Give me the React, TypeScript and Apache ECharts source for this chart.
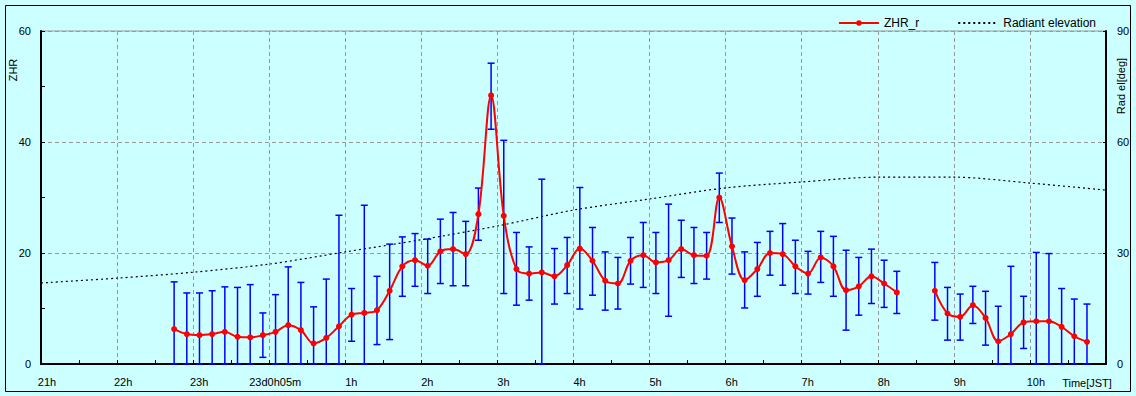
import React, { useEffect, useRef } from "react";
import * as echarts from "echarts";

// Observation times (JST), 10-minute bins; null values = no data
const zhrTimes = [
  "22:45","22:55","23:05","23:15","23:25","23:35","23:45","23:55",
  "0:05","0:15","0:25","0:35","0:45","0:55","1:05","1:15","1:25","1:35","1:45","1:55",
  "2:05","2:15","2:25","2:35","2:45","2:55","3:05","3:15","3:25","3:35","3:45","3:55",
  "4:05","4:15","4:25","4:35","4:45","4:55","5:05","5:15","5:25","5:35","5:45","5:55",
  "6:05","6:15","6:25","6:35","6:45","6:55","7:05","7:15","7:25","7:35","7:45","7:55",
  "8:05","8:15","8:25","8:35","8:45","8:55","9:05","9:15","9:25","9:35","9:45","9:55",
  "10:05","10:15","10:25","10:35","10:45",
];
const zhrValues = [
  6.3, 5.4, 5.2, 5.4, 5.8, 4.9, 4.8, 5.2,
  5.8, 7.0, 6.1, 3.7, 4.7, 6.8, 8.9, 9.2, 9.7, 13.2, 17.6, 18.7,
  17.7, 20.3, 20.7, 19.8, 27.0, 48.4, 26.7, 17.1, 16.3, 16.5, 15.8, 17.8,
  20.8, 18.6, 15.0, 14.5, 18.6, 19.6, 18.3, 18.7, 20.7, 19.6, 19.5, 30.0,
  21.2, 15.1, 17.1, 20.0, 19.8, 17.6, 16.3, 19.2, 17.6, 13.3, 14.0, 15.8,
  14.5, 12.9, null, null, 13.2, 9.1, 8.5, 10.6, 8.3, 4.1, 5.4, 7.5,
  7.7, 7.7, 6.7, 5.0, 4.0,
];
const zhrLow = [
  0, 0, 0, 0, 0, 0, 0, 1.2,
  0, 0, 0, 0, 0, 0, 4.1, 0, 3.5, 4.4, 12.2, 14.0,
  12.7, 14.5, 14.1, 14.1, 22.3, 42.3, 12.7, 10.6, 11.5, 0, 10.8, 12.7,
  9.9, 12.4, 9.7, 9.9, 14.4, 13.8, 12.7, 8.6, 15.6, 14.5, 15.3, 25.5,
  16.2, 10.1, 12.2, 16.0, 14.2, 12.7, 12.6, 14.7, 12.2, 6.1, 8.8, 10.9,
  10.2, 9.1, null, null, 7.9, 4.3, 4.3, 7.3, 3.4, 0, 0, 2.8,
  0, 0, 0, 0, 0,
];
const zhrHigh = [
  14.8, 12.8, 12.8, 13.2, 13.9, 13.8, 14.3, 9.2,
  12.5, 17.5, 14.7, 10.3, 15.3, 26.8, 13.6, 28.6, 15.8, 21.6, 22.9, 23.5,
  22.5, 26.1, 27.3, 25.7, 31.7, 54.2, 40.3, 23.7, 21.1, 33.3, 20.8, 22.8,
  31.8, 24.6, 20.2, 19.2, 22.8, 25.5, 23.7, 28.8, 25.9, 24.6, 23.7, 34.4,
  26.3, 20.2, 21.9, 23.9, 25.3, 22.3, 20.3, 23.9, 23.0, 20.5, 19.2, 20.7,
  18.7, 16.7, null, null, 18.3, 13.8, 12.6, 14.0, 13.1, 10.4, 17.6, 12.2,
  20.1, 19.9, 13.6, 11.7, 10.8,
];

// Radiant elevation [deg], hourly
const elevTimes = ["21:00","22:00","23:00","0:00","1:00","2:00","3:00","4:00","5:00","6:00","7:00","8:00","9:00","10:00","11:00"];
const elevValues = [21.9, 23.2, 24.8, 27.0, 30.3, 33.6, 37.3, 41.6, 44.6, 47.6, 49.2, 50.5, 50.5, 48.9, 47.0];

// x-axis tick labels (hours since 21h of the previous day)
const xTickLabels: Record<number, string> = {
  21: "21h", 22: "22h", 23: "23h", 24: "23d0h05m", 25: "1h", 26: "2h", 27: "3h",
  28: "4h", 29: "5h", 30: "6h", 31: "7h", 32: "8h", 33: "9h", 34: "10h", 35: "",
};

const toHours = (s: string) => {
  const [h, m] = s.split(":").map(Number);
  const hh = h < 21 ? h + 24 : h;
  return hh + m / 60;
};

const FONT = "'Liberation Sans', Arial, sans-serif";

export default function App() {
  const ref = useRef<HTMLDivElement>(null);
  useEffect(() => {
    if (!ref.current) return;
    const chart = echarts.init(ref.current, null, { renderer: "svg" });

    const lineData = zhrTimes.map((t, i) => [toHours(t), zhrValues[i] == null ? "-" : zhrValues[i]]);
    const errData: number[][] = [];
    zhrTimes.forEach((t, i) => {
      if (zhrLow[i] != null && zhrHigh[i] != null) errData.push([toHours(t), zhrLow[i] as number, zhrHigh[i] as number]);
    });
    const elevData = elevTimes.map((t, i) => [toHours(t), elevValues[i]]);

    chart.setOption({
      animation: false,
      backgroundColor: "#CCFFFF",
      textStyle: { fontFamily: FONT },
      grid: { left: 41, right: 30, top: 31, bottom: 32, show: true, borderColor: "#999999", borderWidth: 1, backgroundColor: "#CCFFFF" },
      legend: {
        data: [
          { name: "ZHR_r" },
          { name: "Radiant elevation", itemStyle: { opacity: 0 } },
        ],
        right: 35,
        top: 12,
        itemWidth: 40,
        itemHeight: 7,
        itemGap: 38,
        textStyle: { fontSize: 12, color: "#000", fontFamily: FONT },
      },
      graphic: [
        { type: "rect", shape: { x: 5.5, y: 5.5, width: 1125, height: 386 }, style: { fill: "none", stroke: "#000", lineWidth: 1 }, z: 100 },
        { type: "text", x: 13, y: 70, rotation: Math.PI / 2, style: { text: "ZHR", font: `11px ${FONT}`, fill: "#000", align: "center", verticalAlign: "middle" } },
        { type: "text", x: 1121, y: 86, rotation: Math.PI / 2, style: { text: "Rad el[deg]", font: `11px ${FONT}`, fill: "#000", align: "center", verticalAlign: "middle" } },
        { type: "text", x: 1087, y: 383, style: { text: "Time[JST]", font: `11px ${FONT}`, fill: "#000", align: "center", verticalAlign: "middle" } },
      ],
      xAxis: {
        type: "value",
        min: 21,
        max: 35,
        interval: 1,
        axisLine: { show: true, onZero: false, lineStyle: { color: "#000", width: 2 } },
        axisTick: { show: true, inside: true, length: 4, lineStyle: { color: "#000" } },
        minorTick: { show: true, splitNumber: 2, length: 4, lineStyle: { color: "#000" } },
        axisLabel: {
          color: "#000",
          fontSize: 11,
          margin: 12,
          padding: [0, 0, 0, 12],
          formatter: (v: number) => xTickLabels[Math.round(v)] ?? "",
        },
        splitLine: { show: true, lineStyle: { color: "#999999", type: [4, 3], width: 1 } },
      },
      yAxis: [
        {
          type: "value",
          min: 0,
          max: 60,
          interval: 20,
          axisLine: { show: true, lineStyle: { color: "#000", width: 2 } },
          axisTick: { show: true, inside: true, length: 4, lineStyle: { color: "#000" } },
          minorTick: { show: true, splitNumber: 2, length: 4, lineStyle: { color: "#000" } },
          axisLabel: { color: "#000", fontSize: 11, margin: 10 },
          splitLine: { show: true, lineStyle: { color: "#999999", type: [4, 3], width: 1 } },
        },
        {
          type: "value",
          min: 0,
          max: 90,
          interval: 30,
          position: "right",
          axisLine: { show: true, lineStyle: { color: "#000", width: 2 } },
          axisTick: { show: true, inside: true, length: 3, lineStyle: { color: "#000" } },
          axisLabel: { color: "#000", fontSize: 11, margin: 11 },
          splitLine: { show: false },
        },
      ],
      series: [
        {
          name: "Radiant elevation",
          type: "line",
          yAxisIndex: 1,
          data: elevData,
          smooth: 0.3,
          symbol: "none",
          lineStyle: { color: "#000", width: 1.2, type: [2, 3] },
          itemStyle: { color: "#000" },
          z: 2,
        },
        {
          name: "errbars",
          type: "custom",
          data: errData,
          encode: { x: 0, y: [1, 2] },
          z: 3,
          renderItem: (params: any, api: any) => {
            const x = api.value(0);
            const lo = api.coord([x, api.value(1)]);
            const hi = api.coord([x, api.value(2)]);
            const w = 3.5;
            const style = { stroke: "#0000FF", lineWidth: 1.5 };
            return {
              type: "group",
              children: [
                { type: "line", shape: { x1: lo[0], y1: lo[1], x2: hi[0], y2: hi[1] }, style },
                { type: "line", shape: { x1: lo[0] - w, y1: lo[1], x2: lo[0] + w, y2: lo[1] }, style },
                { type: "line", shape: { x1: hi[0] - w, y1: hi[1], x2: hi[0] + w, y2: hi[1] }, style },
              ],
            };
          },
        },
        {
          name: "ZHR_r",
          type: "line",
          data: lineData,
          smooth: 0.35,
          connectNulls: false,
          symbol: "circle",
          symbolSize: 6,
          lineStyle: { color: "#FF0000", width: 2 },
          itemStyle: { color: "#FF0000" },
          z: 4,
        },
      ],
    });
    return () => chart.dispose();
  }, []);
  return <div ref={ref} style={{ position: "absolute", left: 0, top: 0, width: 1136, height: 396 }} />;
}
